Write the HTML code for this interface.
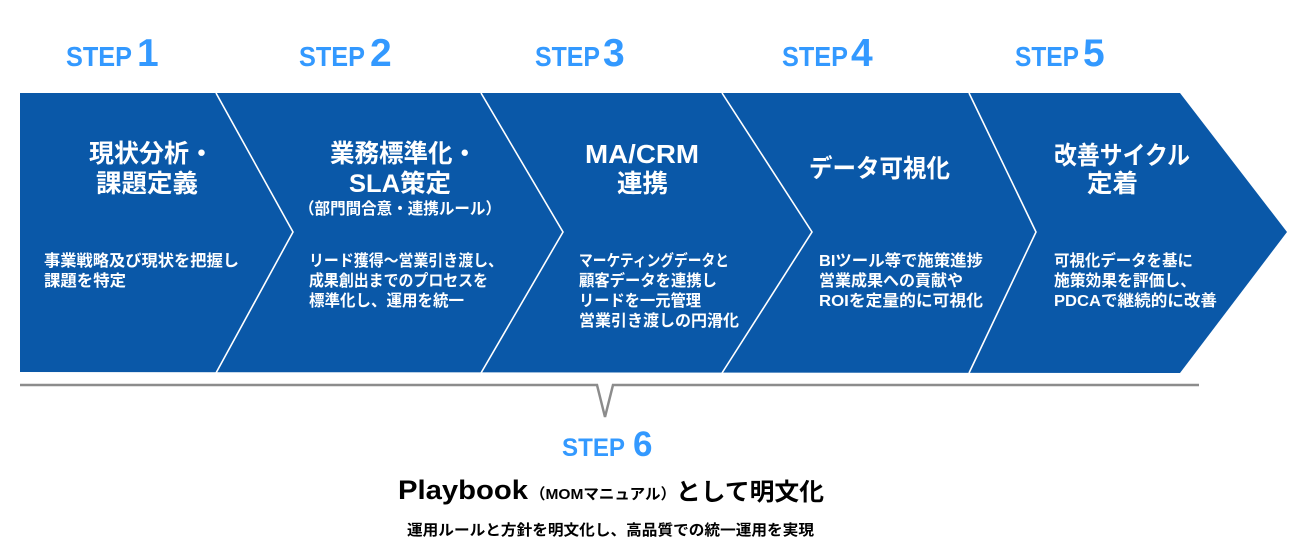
<!DOCTYPE html>
<html><head><meta charset="utf-8"><style>
html,body{margin:0;padding:0;background:#fff;}
svg{display:block;}
text{font-family:"Liberation Sans","Noto Sans CJK JP",sans-serif;font-weight:bold;}
.st{fill:#3399ff;}
.w{fill:#fff;}
.k{fill:#000;}
</style></head><body>
<svg width="1300" height="556" viewBox="0 0 1300 556" xmlns="http://www.w3.org/2000/svg">
<polygon points="20,93 1180,93 1287,232 1180,373 20,372" fill="#0a58a8"/>
<g fill="none" stroke="#fff" stroke-width="1.6">
<polyline points="216,93 293,232 216,373"/>
<polyline points="481,93 563,232 481,373"/>
<polyline points="722,93 812,232 722,373"/>
<polyline points="969,93 1036,232 969,373"/>
</g>
<polyline points="20,385 597,385 605,417 613,385 1199,385" fill="none" stroke="#8c8c8c" stroke-width="2.5"/>

<!-- STEP labels -->
<text class="st" x="66" y="66" font-size="28" textLength="66" lengthAdjust="spacingAndGlyphs">STEP</text>
<text class="st" x="137" y="66" font-size="39">1</text>
<text class="st" x="299" y="66" font-size="28" textLength="66" lengthAdjust="spacingAndGlyphs">STEP</text>
<text class="st" x="370" y="66" font-size="39">2</text>
<text class="st" x="535" y="66" font-size="28" textLength="65" lengthAdjust="spacingAndGlyphs">STEP</text>
<text class="st" x="603" y="66" font-size="39">3</text>
<text class="st" x="782" y="66" font-size="28" textLength="66" lengthAdjust="spacingAndGlyphs">STEP</text>
<text class="st" x="851" y="66" font-size="39">4</text>
<text class="st" x="1015" y="66" font-size="28" textLength="64" lengthAdjust="spacingAndGlyphs">STEP</text>
<text class="st" x="1083" y="66" font-size="39">5</text>
<text class="st" x="562" y="456" font-size="25" textLength="63" lengthAdjust="spacingAndGlyphs">STEP</text>
<text class="st" x="633" y="456" font-size="35">6</text>

<!-- Step 1 -->
<text class="w" x="89" y="162" font-size="25" textLength="125" lengthAdjust="spacingAndGlyphs">現状分析・</text>
<text class="w" x="96" y="192" font-size="25" textLength="102" lengthAdjust="spacingAndGlyphs">課題定義</text>
<text class="w" x="44" y="266" font-size="16" textLength="195" lengthAdjust="spacingAndGlyphs">事業戦略及び現状を把握し</text>
<text class="w" x="44" y="286" font-size="16" textLength="82" lengthAdjust="spacingAndGlyphs">課題を特定</text>

<!-- Step 2 -->
<text class="w" x="330" y="162" font-size="25" textLength="147" lengthAdjust="spacingAndGlyphs">業務標準化・</text>
<text class="w" x="349" y="192" font-size="25" textLength="102" lengthAdjust="spacingAndGlyphs">SLA策定</text>
<text class="w" x="299" y="214" font-size="16" textLength="202" lengthAdjust="spacingAndGlyphs">（部門間合意・連携ルール）</text>
<text class="w" x="309" y="266" font-size="16" textLength="194" lengthAdjust="spacingAndGlyphs">リード獲得～営業引き渡し、</text>
<text class="w" x="309" y="286" font-size="16" textLength="179" lengthAdjust="spacingAndGlyphs">成果創出までのプロセスを</text>
<text class="w" x="309" y="306" font-size="16" textLength="155" lengthAdjust="spacingAndGlyphs">標準化し、運用を統一</text>

<!-- Step 3 -->
<text class="w" x="585" y="163" font-size="26" textLength="114" lengthAdjust="spacingAndGlyphs">MA/CRM</text>
<text class="w" x="617" y="192" font-size="25" textLength="51" lengthAdjust="spacingAndGlyphs">連携</text>
<text class="w" x="579" y="266" font-size="16" textLength="150" lengthAdjust="spacingAndGlyphs">マーケティングデータと</text>
<text class="w" x="579" y="286" font-size="16" textLength="138" lengthAdjust="spacingAndGlyphs">顧客データを連携し</text>
<text class="w" x="579" y="306" font-size="16" textLength="122" lengthAdjust="spacingAndGlyphs">リードを一元管理</text>
<text class="w" x="579" y="326" font-size="16" textLength="160" lengthAdjust="spacingAndGlyphs">営業引き渡しの円滑化</text>

<!-- Step 4 -->
<text class="w" x="809" y="177" font-size="25" textLength="141" lengthAdjust="spacingAndGlyphs">データ可視化</text>
<text class="w" x="819" y="266" font-size="16" textLength="164" lengthAdjust="spacingAndGlyphs">BIツール等で施策進捗</text>
<text class="w" x="819" y="286" font-size="16" textLength="144" lengthAdjust="spacingAndGlyphs">営業成果への貢献や</text>
<text class="w" x="819" y="306" font-size="16" textLength="164" lengthAdjust="spacingAndGlyphs">ROIを定量的に可視化</text>

<!-- Step 5 -->
<text class="w" x="1054" y="164" font-size="25" textLength="136" lengthAdjust="spacingAndGlyphs">改善サイクル</text>
<text class="w" x="1087" y="192" font-size="25" textLength="51" lengthAdjust="spacingAndGlyphs">定着</text>
<text class="w" x="1054" y="266" font-size="16" textLength="139" lengthAdjust="spacingAndGlyphs">可視化データを基に</text>
<text class="w" x="1054" y="286" font-size="16" textLength="142" lengthAdjust="spacingAndGlyphs">施策効果を評価し、</text>
<text class="w" x="1054" y="306" font-size="16" textLength="163" lengthAdjust="spacingAndGlyphs">PDCAで継続的に改善</text>

<!-- Bottom -->
<text class="k" x="398" y="499" font-size="27" textLength="130" lengthAdjust="spacingAndGlyphs">Playbook</text>
<text class="k" x="530" y="499" font-size="15" textLength="146" lengthAdjust="spacingAndGlyphs">（MOMマニュアル）</text>
<text class="k" x="676" y="500" font-size="24" textLength="148" lengthAdjust="spacingAndGlyphs">として明文化</text>
<text class="k" x="407" y="535" font-size="15" textLength="407" lengthAdjust="spacingAndGlyphs">運用ルールと方針を明文化し、高品質での統一運用を実現</text>
</svg>
</body></html>
